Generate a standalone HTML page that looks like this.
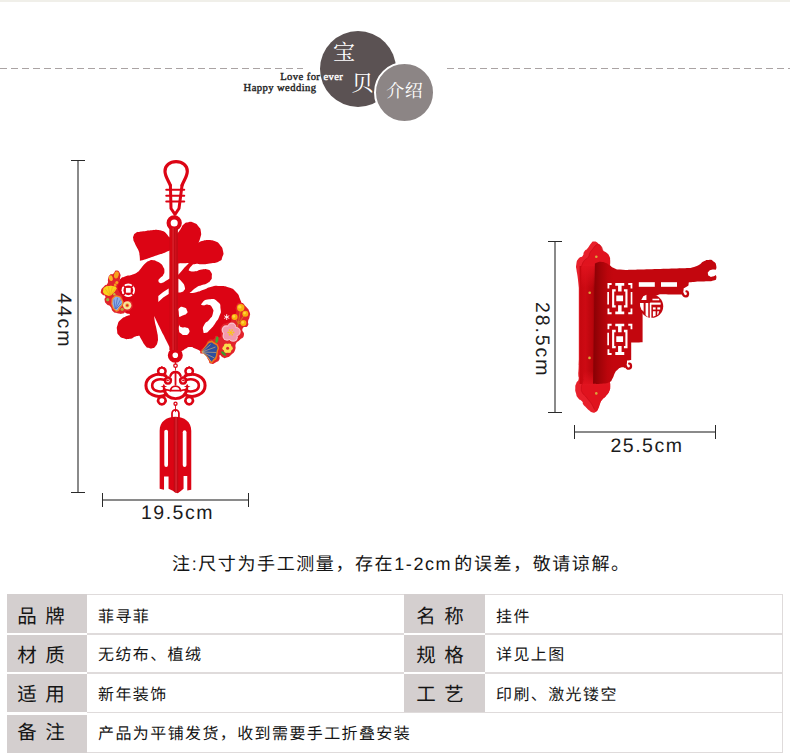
<!DOCTYPE html>
<html lang="zh-CN"><head><meta charset="utf-8"><title>宝贝介绍</title>
<style>
html,body{margin:0;padding:0;background:#fff}
body{position:relative;width:790px;height:753px;overflow:hidden;font-family:"Liberation Sans",sans-serif;color:#1c1c1c;text-rendering:geometricPrecision;-webkit-font-smoothing:antialiased}
.sr{position:absolute;width:1px;height:1px;margin:-1px;padding:0;overflow:hidden;clip:rect(0 0 0 0);clip-path:inset(50%);white-space:nowrap;border:0}
.tx{position:absolute;display:block;line-height:0}
.tx svg{display:block;overflow:visible}
.tx text{font-family:"Liberation Sans","Noto Sans CJK SC",sans-serif;fill:#151515}
.tx text.hd{font-family:"Liberation Serif","Noto Serif CJK SC",serif;fill:#fff}
.abs{position:absolute}
.topline{position:absolute;left:0;top:0;width:790px;height:1.5px;background:#f0efe9}
.dash{position:absolute;top:68px;height:1px;background:repeating-linear-gradient(90deg,#aaa3a3 0,#aaa3a3 7px,transparent 7px,transparent 11px)}
.c1{position:absolute;left:320px;top:31px;width:76px;height:76px;border-radius:50%;background:#5b5253}
.c2{position:absolute;left:373.5px;top:61.5px;width:57px;height:57px;border-radius:50%;background:#8c8585;border:2px solid #fff}
.en{position:absolute;font-family:"Liberation Serif",serif;font-weight:normal;font-size:10.6px;letter-spacing:.42px;line-height:12px;white-space:nowrap;color:#1f1f1f;-webkit-text-stroke:.4px currentColor}
.en b{color:#fff;font-weight:normal}
.dim{position:absolute;font-size:19.5px;letter-spacing:1.5px;line-height:20px;white-space:nowrap;color:#1c1c1c}
.rot{transform-origin:0 0;transform:rotate(90deg);letter-spacing:1.9px}
.vl{position:absolute;width:2px;background:#8a8a8a}
.hl{position:absolute;height:2px;background:#8a8a8a}
.tk{position:absolute;background:#2a2a2a}
.lab{position:absolute;background:#d4cfcf}
.ln{position:absolute;background:#dfdbdb}
</style></head>
<body>
<header>
<div class="topline"></div>
<div class="dash" style="left:0;width:303px"></div>
<div class="dash" style="left:447px;width:343px"></div>
<div class="c1"></div><div class="c2"></div>
<div class="en" style="left:280.2px;top:72.2px">Love for <b>ever</b></div>
<div class="en" style="left:243.6px;top:83.4px">Happy wedding</div>
<span class="tx" style="left:330px;top:38px;width:28px;height:32.8px"><svg width="28" height="32.8" viewBox="0 0 28 32.8"><text class="hd" x="14.1" y="22.3" font-size="22" text-anchor="middle">宝</text></svg></span>
<span class="tx" style="left:347.8px;top:67.6px;width:28.5px;height:33.4px"><svg width="28.5" height="33.4" viewBox="0 0 28.5 33.4"><text class="hd" x="14.5" y="23.5" font-size="22" text-anchor="middle">贝</text></svg></span>
<span class="tx" style="left:383.5px;top:78.5px;width:41.5px;height:26.2px"><svg width="41.5" height="26.2" viewBox="0 0 41.5 26.2"><text class="hd" x="2.2" y="18.2" font-size="18" letter-spacing="0.5">介绍</text></svg></span>
</header>
<section aria-label="尺寸">
<div class="vl" style="left:77px;top:160.5px;height:332px"></div>
<div class="tk" style="left:71px;top:160px;width:14px;height:1px"></div>
<div class="tk" style="left:71px;top:492px;width:14px;height:1px"></div>
<div class="hl" style="left:102px;top:499px;width:146.5px"></div>
<div class="tk" style="left:101.5px;top:493px;width:1px;height:14px"></div>
<div class="tk" style="left:248px;top:493px;width:1px;height:14px"></div>
<div class="vl" style="left:554px;top:241.5px;height:171px"></div>
<div class="tk" style="left:548px;top:241px;width:14px;height:1px"></div>
<div class="tk" style="left:548px;top:412px;width:14px;height:1px"></div>
<div class="hl" style="left:574.5px;top:430.5px;width:141px"></div>
<div class="tk" style="left:574px;top:424.5px;width:1px;height:14px"></div>
<div class="tk" style="left:715px;top:424.5px;width:1px;height:14px"></div>
<div class="dim" style="left:141px;top:503px">19.5cm</div>
<div class="dim" style="left:610.5px;top:435.5px">25.5cm</div>
<div class="dim rot" style="left:74.2px;top:292.5px">44cm</div>
<div class="dim rot" style="left:551.6px;top:301.5px">28.5cm</div>
<svg class="abs" style="left:0;top:140px" width="790" height="400" viewBox="0 140 790 400" role="img" aria-label="product photos"><g id="fu">
<g fill="none" stroke="#dc0414" stroke-linecap="round" stroke-linejoin="round">
<path stroke-width="3.2" d="M170.4 185.5C168.5 180.5 165 176.5 165 171.2C165 165.3 169.8 161.7 176.1 161.7C182.4 161.7 187.3 165.3 187.3 171.2C187.3 176.5 183.6 180.5 182 185.5"/>
<path stroke-width="3" d="M170.4 185.5L171 208.5L175 214.3L179 208.5L182 185.5"/>
<path stroke-width="2.1" d="M166.3 189.8H184.2M166.3 195.7H184.2M166.3 201.5H184.2"/>
<circle cx="174.2" cy="223" r="5.6" stroke-width="4.1"/>
<circle cx="175.3" cy="355.2" r="5.15" stroke-width="4.7"/>
</g>
<g fill="#dc0414">
<path d="M133.5 235.9C134.3 233.9 133.6 234.3 135.7 232.9C137.8 231.5 136.5 232.4 139.9 231.7C143.3 231.1 141.9 231.4 145.9 230.9C149.8 230.4 147.8 230.5 151.8 230.2C155.8 229.9 154.2 229.6 157.8 229.9C161.4 230.3 159.8 229.9 162.6 231.1C165.4 232.3 164 231.5 166.2 233.5C168.4 235.5 167.2 235.3 169.2 237.1C171.2 238.9 172.1 238.9 172.1 238.9C172.1 238.9 172.1 250.3 172.1 250.3C172.1 250.3 171.4 249.9 168.6 250.9C165.8 251.8 167.4 251.6 163.8 253C160.2 254.4 162.2 253.6 157.8 255C153.4 256.5 155 256 150.6 257.4C146.3 258.9 148.2 258.3 144.7 259.5C141.1 260.6 139.9 260.8 139.9 260.8C139.9 260.8 140 258.9 139.6 255.6C139.2 252.3 139.7 253.8 138.7 250.9C137.6 247.9 137.9 249.5 136.5 246.7C135.1 243.9 135.6 245.1 134.5 242.5C133.4 239.9 133.6 241.1 133.3 238.9C133 236.7 132.7 237.9 133.5 235.9Z"/>
<path d="M125 276.5C129.1 274.5 127.4 276.2 131.4 274.9C135.4 273.6 133.8 274.6 137 272.5C140.2 270.4 138.3 271.4 140.9 268.5C143.5 265.6 142.2 266.3 144.9 263.8C147.6 261.3 146.2 262.2 148.9 261C151.6 259.8 150.2 260.1 152.9 260.2C155.6 260.3 154.2 260.2 156.9 261.4C159.6 262.6 158.8 261.9 160.9 263.8C163 265.7 162 264.6 163.2 267C164.4 269.4 164.4 268.3 164.4 270.9C164.4 273.5 164.4 272.8 163.2 274.9C162 277 162.3 275.8 160.9 277.3C159.5 278.8 158.9 279.3 158.9 279.3C158.9 279.3 158.1 280.1 158.5 281.3C158.9 282.5 158.5 282.5 160.1 282.9C161.7 283.3 161.1 283.3 163.2 282.5C165.3 281.7 163.5 282.2 166.4 280.5C169.3 278.8 172 277.5 172 277.5C172 277.5 172 349.4 172 349.4C172 349.4 171.6 349.7 169.8 347C168 344.3 168.8 345.4 166.7 341.4C164.6 337.4 165.6 339.3 163.5 335.1C161.4 330.9 162.4 333 160.3 328.7C158.2 324.4 159.1 326.6 157.1 322.3C155.1 318 154.3 315.9 154.3 315.9C154.3 315.9 154.2 317.2 154.7 320.7C155.2 324.2 155.1 322.6 155.9 326.3C156.7 330 156.4 328.2 157.1 331.9C157.8 335.6 157.8 334.1 157.9 337.5C158 340.9 158.3 339.3 157.5 342.2C156.7 345.1 157.2 344.2 155.5 346.2C153.8 348.2 154.7 347.7 152.3 348.2C149.9 348.7 150.7 348.7 148.3 347.8C145.9 346.9 147.2 347.8 145.1 345.4C143 343 143.8 343.8 142 340.6C140.2 337.4 139.6 335.9 139.6 335.9C139.6 335.9 138.9 335.4 135.6 336.4C132.3 337.4 133.7 338.2 129.7 338.8C125.7 339.4 127.3 339.4 123.7 338.2C120.1 337 121.1 337.8 118.9 335.2C116.7 332.6 117.5 334 117.1 330.4C116.7 326.8 116.5 328 117.7 324.4C118.9 320.8 118.1 322.4 120.7 319.7C123.3 317 122.6 318.2 125.6 316.4C128.6 314.6 130.3 316 129.8 314.4C129.3 312.8 127.9 315.3 124 311.5C120.1 307.7 120.7 310.2 118 303C115.3 295.8 115.7 297.3 116 290C116.3 282.7 116 285.5 119 281C122 276.5 120.9 278.5 125 276.5Z"/>
<path d="M176 235.3C176 235.3 178 232.9 180.5 229.3C183 225.7 180.9 227 183.5 224.6C186.1 222.2 184.9 222.8 188.3 222.2C191.7 221.6 190.3 221.4 193.7 222.8C197.1 224.2 196.1 223.4 198.5 226.4C200.9 229.4 200.3 227.9 200.9 231.7C201.5 235.5 201.1 234.1 200.3 237.7C199.5 241.3 198.5 242.5 198.5 242.5C198.5 242.5 199.6 241.5 203.2 240.7C206.8 239.9 205.2 239.9 209.2 240.1C213.2 240.3 211.6 239.7 215.2 241.3C218.8 242.9 217.4 241.7 220 244.9C222.6 248.1 222.2 246.9 223 250.9C223.8 254.9 223.8 253.2 222.4 256.8C221 260.4 223 259.4 218.8 261.6C214.6 263.8 215.4 262.6 209.8 263.5C204.2 264.4 206.7 264.2 201.9 264.3C197.1 264.4 199 263.4 195.5 263.9C192 264.4 193.8 263.8 191.5 265.9C189.2 268 188.7 270.3 188.7 270.3C188.7 270.3 189.5 271.8 193.9 271.5C198.3 271.2 197.4 270.2 201.9 269.5C206.4 268.8 204.5 268.6 207.5 269.5C210.5 270.4 209.6 270 211 272.3C212.4 274.6 211.9 273.6 211.8 276.3C211.7 279 212.3 277.9 210.6 280.3C208.9 282.7 209.6 281.9 206.7 283.5C203.8 285.1 205.4 283.8 201.9 285.1C198.4 286.4 199.8 285.4 196.3 287.5C192.8 289.6 193.8 289.6 191.5 291.4C189.2 293.2 189.5 293 189.5 293C189.5 293 191.6 293.3 196.3 292.2C201 291.1 198.5 291.6 203.5 289.8C208.5 288 206.1 288 211.4 286.7C216.7 285.4 213.5 285.6 219.4 285.9C225.3 286.2 223.5 285.5 229 287.5C234.5 289.5 232.3 288.2 236 292C239.7 295.8 238.2 294.3 240 299C241.8 303.7 241.2 301 241.5 306C241.8 311 242.2 306 241 314C239.8 322 242.3 319.7 238 330C233.7 340.3 235.7 337.7 228 345C220.3 352.3 224 349.8 215 352C206 354.2 201 351.5 201 351.5C201 351.5 198.7 350 195 348.5C191.3 347 193.1 347 190 347C186.9 347 188.5 347.3 185.8 348.6C183.1 349.9 185.1 349.9 181.8 351C178.5 352.1 176 352 176 352C176 352 176 235.3 176 235.3Z"/>
</g>
<g fill="#fff">
<path d="M168.7 288.5L163.2 292.1L158.3 296L158.3 302L163.2 297.4L168.7 293.9Z"/>
<path d="M178.4 263.4C178.4 263.4 189 263 189 263C189 263 187.1 264.8 183.5 268.7C180 272.7 178.4 274.9 178.4 274.9C178.4 274.9 178.4 263.4 178.4 263.4Z"/>
<path d="M178.4 278.8C178.4 278.8 179.8 279.3 182 281.9C184.1 284.5 184.1 283.7 184.7 286.7C185.4 289.6 185.1 288.8 183.9 290.6C182.7 292.5 183 291.6 181.2 292.2C179.3 292.8 178.4 292.4 178.4 292.4C178.4 292.4 178.4 278.8 178.4 278.8Z"/>
<path d="M202.1 302.9C204 300.9 204 299.7 209.2 299.3C214.4 298.9 213.8 298.5 217.6 301.7C221.4 304.9 220 304.1 220.6 308.9C221.2 313.7 221.2 311.3 219.4 316.1C217.6 320.9 218.2 318.9 215.2 323.2C212.2 327.6 213.6 326 210.4 329.2C207.2 332.4 208 332.4 205.6 332.8C203.2 333.2 203.6 333.2 203.2 330.4C202.8 327.6 202.4 328 204.4 324.4C206.4 320.9 206.4 323.2 209.2 319.7C212 316.1 211.8 317.7 212.8 313.7C213.8 309.7 213.8 310.7 212.2 307.7C210.6 304.7 211 305.5 208 304.7C205 303.9 205.2 305.9 203.2 305.3C201.3 304.7 200.1 304.9 202.1 302.9Z"/>
<path d="M179.4 308C181.2 306.2 181.7 306.8 184.2 307.6C186.7 308.4 186.2 308.4 187 310.4C187.8 312.4 188 311.8 186.6 313.5C185.1 315.3 185 314.3 182.6 315.5C180.2 316.7 179.4 317.1 179.4 317.1C179.4 317.1 178.8 315.8 178.8 312.7C178.8 309.7 177.6 309.7 179.4 308Z"/>
<path d="M179.4 323.9C179.4 323.9 178.9 325.9 181 327.1C183.1 328.3 183.1 326.7 185.8 327.5C188.4 328.3 188 327.5 189 329.5C189.9 331.5 189.9 331.6 188.6 333.5C187.2 335.3 187.5 335.1 185 335.1C182.5 335.1 183 335.1 181 333.5C179 331.9 179.5 333.5 179 330.3C178.5 327.1 179.4 323.9 179.4 323.9Z"/>
</g>
<g fill="none" stroke="#fff" stroke-width="1.3"><circle cx="128" cy="290.3" r="5.6"/><rect x="125.4" y="287.7" width="5.2" height="5.2"/></g>
<rect x="169.6" y="228" width="8.3" height="122" fill="#c20a15"/>
<rect x="169.6" y="228" width="2.6" height="122" fill="#d60612"/>
<rect x="172.6" y="228" width="0.9" height="122" fill="#e8303a"/>
<rect x="175.4" y="228" width="0.8" height="122" fill="#d81420"/>
</g>
<g id="flL">
<path fill="#e2232b" d="M116.4 270.5C118.7 270.3 118.8 270.8 120 273.5C121.2 276.1 120.4 275.1 120 278.5C119.7 281.8 119.8 280.8 118.9 283.5C118.1 286.3 117.3 283.6 117.5 286.7C117.7 289.8 118.2 289.8 119.7 292.8C121.1 295.8 120.1 292.6 121.8 295.7C123.5 298.8 122 300.5 124.7 302.1C127.3 303.8 127.1 299.8 129.7 300.7C132.3 301.7 132.3 301.9 132.6 305C132.8 308.1 132.6 307.9 130.4 310C128.3 312.2 128.7 310.3 126.1 311.5C123.5 312.7 125.4 313 122.5 313.6C119.7 314.2 120.6 314 117.5 313.3C114.4 312.5 115.6 313.7 113.2 311.5C110.8 309.2 112.5 308.8 110.3 306.4C108.2 304.1 108.7 306.4 106.8 304.3C104.8 302.1 105.1 302.6 104.6 300C104.1 297.4 106.2 298.3 105.3 296.4C104.5 294.5 103.5 296.2 102.1 294.3C100.7 292.3 100.4 293.3 101 290.7C101.6 288 101.7 288.8 103.9 286.4C106 284 106 286.1 107.5 283.5C108.9 280.9 107.2 281.5 108.2 278.5C109.1 275.5 108.7 276.1 110.3 274.5C112 273 111.2 275.2 113.2 273.8C115.2 272.5 114.2 270.6 116.4 270.5Z"/>
<ellipse cx="116.4" cy="274.9" rx="2.3" ry="3.6" fill="#f6a11f" transform="rotate(15 116.4 274.9)"/>
<ellipse cx="110.9" cy="278.2" rx="1.9" ry="2.9" fill="#f8b52a" transform="rotate(-15 110.9 278.2)"/>
<circle cx="116.8" cy="282.6" r="1.5" fill="#f6a11f"/>
<circle cx="115.2" cy="285" r="1.4" fill="#f39a1c"/>
<path fill="#f9d31d" d="M103.2 290.3C103.5 288.2 103.2 288.5 105 287.1C106.8 285.7 105.9 286.4 108.5 286C111.2 285.7 110.2 285.4 112.8 286C115.5 286.6 115.6 286.3 116.4 287.8C117.3 289.4 116.5 288.8 115.4 290.7C114.2 292.6 114.5 291.9 112.8 293.5C111.2 295.2 112.4 295 110.3 295.5C108.3 296.1 108.9 296 106.8 295.3C104.6 294.7 105.1 295.2 103.9 293.5C102.7 291.9 102.8 292.5 103.2 290.3Z"/>
<path fill="none" stroke="#f0a51a" stroke-width=".7" d="M109.5 295.2L105 288.5M109.8 295.2L108.5 286.7M110.3 295.2L112.5 286.6M110.8 295L115.6 288.6"/>
<circle cx="107.7" cy="299.7" r="1.6" fill="#9db63c"/>
<circle cx="114.3" cy="294.3" r="1.2" fill="#c9b640"/>
<path fill="#f08a2a" d="M111.4 302.1C111.8 299 110.9 299.3 113.2 297.1C115.5 295 115.2 295 118.2 295.7C121.2 296.4 120.6 296.4 122.2 299.3C123.7 302.1 123.5 301.4 122.9 304.3C122.3 307.2 122.2 305.5 120.4 307.9C118.6 310.3 119.5 310.7 117.5 311.5C115.5 312.2 116.1 311.7 114.3 310C112.5 308.4 113.1 309.1 112.1 306.4C111.2 303.8 111.1 305.2 111.4 302.1Z"/>
<path fill="#8eaee6" d="M112.6 302.1C112.9 299.6 112.2 299.9 113.9 298.2C115.7 296.5 115.5 296.5 117.9 297.1C120.3 297.7 119.8 297.7 121.1 300C122.4 302.3 122.3 301.7 121.7 303.9C121.1 306.2 120.8 304.8 119.3 306.8C117.8 308.8 118.7 309.3 117.1 309.9C115.6 310.5 116.1 310 114.8 308.6C113.4 307.2 113.8 307.9 113.1 305.7C112.3 303.6 112.3 304.7 112.6 302.1Z"/>
<path fill="none" stroke="#4c6fc4" stroke-width=".8" d="M115 309L114 299.5M115.3 309L117.5 297.8M115.6 309L120.6 299.6M116 309L121.6 303.4"/>
<circle cx="122.2" cy="309.3" r="1.6" fill="#b9a43a"/>
<circle cx="127.2" cy="305.4" r="4.2" fill="#f7e3a0"/>
<circle cx="127.2" cy="305.4" r="2.1" fill="#f5b73a"/>
<circle cx="127.2" cy="305.4" r="1.2" fill="#d8202a"/>
</g>
<g id="coin"><circle cx="128.3" cy="290.3" r="6.7" fill="#fff"/><circle cx="128.3" cy="290.3" r="4.9" fill="#dc0414"/>
<path stroke="#dc0414" stroke-width="1.6" d="M123.3 285.3L133.3 295.3M133.3 285.3L123.3 295.3"/>
<rect x="125.9" y="287.9" width="4.8" height="4.8" fill="#fff"/></g>
<g id="flR">
<path fill="#e2232b" d="M240.7 302.7C243.9 302.7 242.8 303.3 245.8 306.4C248.7 309.5 248.2 308.4 249.5 312C250.7 315.5 250 314 249.5 317.1C249 320.2 248.7 318.3 248.1 321.3C247.5 324.2 249.5 323.4 247.6 325.9C245.8 328.4 243.8 325.6 242.5 328.7C241.3 331.8 244.8 331.5 243.9 335.2C243 338.9 242.4 337.1 239.7 339.9C237.1 342.7 237.6 340.2 236 343.6C234.4 347 236.6 346.4 235.1 350.1C233.5 353.8 234.1 352.3 231.3 354.7C228.6 357.2 229.5 356.6 226.7 357.5C223.9 358.5 225.3 358.3 223 357.5C220.7 356.8 221 354.6 219.7 355.2C218.5 355.8 220.5 357.1 219.3 359.4C218 361.7 218.8 360.8 216 362.2C213.2 363.6 213.5 364.5 210.9 363.6C208.2 362.7 210.1 362.3 208.1 359.4C206.1 356.4 207.5 357.2 204.8 354.7C202.2 352.3 200 355.1 200.2 352C200.3 348.9 202.5 349.3 205.3 345.4C208.1 341.6 205.8 342.5 208.6 340.3C211.3 338.2 211.2 340.5 213.7 338.9C216.2 337.4 213.8 336.3 216 335.7C218.2 335.1 218.6 338.5 220.2 337.1C221.7 335.7 220.2 335.2 220.7 331.5C221.1 327.8 219.6 328.7 221.6 325.9C223.6 323.1 223.6 324.7 226.7 323.1C229.8 321.6 229.3 323.7 230.9 321.3C232.4 318.8 229.6 318.5 231.3 315.7C233.1 312.9 234.4 316 236 312.9C237.6 309.8 234.4 309.8 236 306.4C237.6 303 237.4 302.7 240.7 302.7Z"/>
<path fill="none" stroke="#d8781c" stroke-width="1" d="M240.7 308L238.3 323.5L234.6 317.1M238.3 323.5L245.3 313.8M238.3 323.5L243.4 323.1M238.3 323.5L236 330"/>
<circle cx="240.7" cy="307.8" r="3.7" fill="#f8b10d"/>
<circle cx="239.8" cy="306.9" r="1.7" fill="#ffd440"/>
<circle cx="245.3" cy="313.8" r="3" fill="#f8b10d"/>
<circle cx="244.6" cy="313.1" r="1.4" fill="#ffd440"/>
<circle cx="234.6" cy="317.1" r="3" fill="#f8b10d"/>
<circle cx="233.8" cy="316.4" r="1.4" fill="#ffd440"/>
<circle cx="243.4" cy="323.1" r="3" fill="#f8b10d"/>
<circle cx="242.7" cy="322.4" r="1.4" fill="#ffd440"/>
<path stroke="#fff" stroke-width=".9" stroke-linecap="round" d="M226.7 314.6V319.6M224.5 315.9L228.9 318.3M228.9 315.9L224.5 318.3"/>
<circle cx="231.8" cy="327.2" r="4.6" fill="#f9c4cd"/>
<circle cx="236.1" cy="331.7" r="4.6" fill="#f9c4cd"/>
<circle cx="233.2" cy="337.2" r="4.6" fill="#f9c4cd"/>
<circle cx="227.1" cy="336.1" r="4.6" fill="#f9c4cd"/>
<circle cx="226.2" cy="329.9" r="4.6" fill="#f9c4cd"/>
<circle cx="231.8" cy="327.5" r="3.7" fill="#f29bad"/>
<circle cx="235.9" cy="331.7" r="3.7" fill="#f29bad"/>
<circle cx="233.1" cy="336.9" r="3.7" fill="#f29bad"/>
<circle cx="227.3" cy="335.9" r="3.7" fill="#f29bad"/>
<circle cx="226.5" cy="330.1" r="3.7" fill="#f29bad"/>
<circle cx="230.9" cy="332.4" r="3.4" fill="#f29bad"/>
<circle cx="230.9" cy="332.4" r="1.5" fill="#f8c61c"/>
<circle cx="233.5" cy="332.4" r="0.9" fill="#f8c61c"/>
<circle cx="232.2" cy="334.7" r="0.9" fill="#f8c61c"/>
<circle cx="229.6" cy="334.7" r="0.9" fill="#f8c61c"/>
<circle cx="228.3" cy="332.4" r="0.9" fill="#f8c61c"/>
<circle cx="229.6" cy="330.1" r="0.9" fill="#f8c61c"/>
<circle cx="232.2" cy="330.1" r="0.9" fill="#f8c61c"/>
<circle cx="230.5" cy="348.2" r="2.3" fill="#f9dc4c"/>
<circle cx="229" cy="350.7" r="2.3" fill="#f9dc4c"/>
<circle cx="226.2" cy="350.7" r="2.3" fill="#f9dc4c"/>
<circle cx="224.7" cy="348.2" r="2.3" fill="#f9dc4c"/>
<circle cx="226.2" cy="345.7" r="2.3" fill="#f9dc4c"/>
<circle cx="229" cy="345.7" r="2.3" fill="#f9dc4c"/>
<circle cx="227.6" cy="348.2" r="1.5" fill="#dd2a2a"/>
<ellipse cx="216.9" cy="339.9" rx="1.5" ry="3.4" fill="#4aa52e" transform="rotate(8 216.9 339.9)"/>
<ellipse cx="223.6" cy="353.5" rx="1.4" ry="3" fill="#3f9a2c" transform="rotate(-50 223.6 353.5)"/>
<path fill="#f07a1a" d="M200.7 352C200.7 352 202.2 349.6 205.3 345.9C208.4 342.2 206.9 342.1 210 341C213.1 339.8 211.7 340.7 214.6 342.5C217.5 344.3 217.5 343.2 218.6 346.4C219.7 349.5 218.5 348.1 217.9 352C217.2 355.8 217.9 355.1 216.7 358C215.4 360.9 216.1 359.1 214.1 360.8C212.2 362.4 212.9 363.7 210.9 362.9C208.9 362.2 210.1 361.2 208.1 358.5C206.1 355.7 207.3 356.9 204.8 354.7C202.4 352.6 200.7 352 200.7 352Z"/>
<path fill="#2f4f9f" d="M201.8 352C201.8 352 203.3 349.9 206 346.8C208.8 343.8 207.4 343.8 210.1 342.8C212.8 341.9 211.8 342.6 214.1 344C216.5 345.5 216.4 344.5 217.2 347.1C218 349.8 217.1 348.6 216.5 352C215.8 355.3 216.4 354.6 215.3 357.1C214.3 359.6 214.6 358 213.2 359.4C211.8 360.8 212.6 361.9 211.1 361.3C209.5 360.6 210.5 359.9 208.6 357.5C206.6 355.2 207.6 356.1 205.3 354.3C203 352.4 201.8 352 201.8 352Z"/>
<path fill="none" stroke="#c9a878" stroke-width=".7" d="M202 352L210.5 344.5M202 352L215.5 347M202 352L216.3 352.5M202 352L214.5 358M202 352L211 361"/>
</g>
<g id="knot" transform="translate(135 355) scale(.10127)" fill="none" stroke="#dc0414" stroke-linecap="round">
<g stroke-width="30">
<path d="M305 207C215 165 108 215 108 300C108 385 215 435 305 393"/>
<path transform="translate(800 0) scale(-1 1)" d="M305 207C215 165 108 215 108 300C108 385 215 435 305 393"/>
</g><g stroke-width="26">
<path d="M300 250C235 225 170 250 170 300C170 350 235 375 300 350"/>
<path transform="translate(800 0) scale(-1 1)" d="M300 250C235 225 170 250 170 300C170 350 235 375 300 350"/>
<path d="M265 123A37 37 0 1 0 265.1 123"/>
<path transform="translate(800 0) scale(-1 1)" d="M265 123A37 37 0 1 0 265.1 123"/>
<path d="M265 413A37 37 0 1 0 265.1 413"/>
<path transform="translate(800 0) scale(-1 1)" d="M265 413A37 37 0 1 0 265.1 413"/>
<path d="M325 222A30 30 0 1 0 325.1 222"/>
<path transform="translate(800 0) scale(-1 1)" d="M325 222A30 30 0 1 0 325.1 222"/>
</g>
<path stroke-width="24" d="M350 205A52 52 0 0 1 450 205"/>
<path stroke-width="18" d="M400 170V292"/>
<circle cx="400" cy="105" r="17" stroke-width="13"/>
<circle cx="400" cy="481" r="15" stroke-width="13"/>
<path stroke-width="9" d="M400 45V90M400 122V150M400 496V560"/>
<path stroke-width="29" d="M288 338C300 462 500 462 512 338"/>
<path stroke-width="18" fill="#fff" d="M352 352A48 44 0 0 1 448 352Z"/>
<path stroke-width="16" d="M288 338L350 352M512 338L450 352"/>
<g fill="#dc0414" stroke="none">
<path d="M285 285L297 305L318 312L297 319L285 340L273 319L252 312L273 305Z"/>
<path transform="translate(800 0) scale(-1 1)" d="M285 285L297 305L318 312L297 319L285 340L273 319L252 312L273 305Z"/>
<path d="M325 240a10 10 0 1 0 .1 0"/>
<path transform="translate(800 0) scale(-1 1)" d="M325 240a10 10 0 1 0 .1 0"/>
</g></g>
<g id="tassel" transform="translate(140 400) scale(.1328)">
<path fill="none" stroke="#dc0414" stroke-width="13" d="M241 140V100A26 26 0 0 1 293 100V140"/>
<path fill="#dc0414" d="M148 668V232C148 165 198 127 266 127C334 127 386 165 386 232V676L356 682V572H328V668L300 690L283 702L262 694L247 684L215 668V576H181V676Z"/>
<rect x="183" y="224" width="28" height="280" rx="14" fill="#fff"/>
<rect x="322" y="228" width="28" height="276" rx="14" fill="#fff"/>
<path fill="#c20a15" d="M254 130H288V700L262 694L254 682Z"/>
<path fill="#e53540" d="M268 130H275V698H268Z"/>
</g>
<defs><linearGradient id="pg" gradientUnits="userSpaceOnUse" x1="594.5" y1="0" x2="613" y2="0"><stop offset="0" stop-color="#8c0105"/><stop offset=".3" stop-color="#a20308"/><stop offset=".7" stop-color="#bb050c"/><stop offset="1" stop-color="#c3060e"/></linearGradient><linearGradient id="sg" gradientUnits="userSpaceOnUse" x1="579" y1="0" x2="595" y2="0"><stop offset="0" stop-color="#c4070f"/><stop offset=".4" stop-color="#cd0a13"/><stop offset=".85" stop-color="#b8050c"/><stop offset="1" stop-color="#9a0207"/></linearGradient><linearGradient id="tf" gradientUnits="userSpaceOnUse" x1="0" y1="264" x2="0" y2="288"><stop offset="0" stop-color="#e0131e"/><stop offset="1" stop-color="#e0131e" stop-opacity="0"/></linearGradient><linearGradient id="bf" gradientUnits="userSpaceOnUse" x1="0" y1="371" x2="0" y2="386"><stop offset="0" stop-color="#e0131e" stop-opacity="0"/><stop offset="1" stop-color="#e0131e"/></linearGradient></defs>
<g id="bracket">
<path fill="#e8202b" d="M579.3 290C579.3 290 578.4 282.5 577.5 276C576.6 269.5 577 274.3 576.6 270.5C576.2 266.7 575.6 268.6 576.3 264.6C577 260.6 576.5 261.5 578.6 258.6C580.7 255.7 580.7 258.2 582.6 255.9C584.5 253.6 582.5 254.2 584.3 251.6C586.1 249 585.6 250.8 587.9 248C590.2 245.2 589.2 245.4 591.2 243.3C593.2 241.2 591.9 241.8 593.9 241.6C595.9 241.4 595.2 241.1 597.2 242.6C599.2 244.1 600 246 600 246C600 246 600 290 600 290C600 290 579.3 290 579.3 290Z"/>
<path fill="#e8202b" d="M579.3 355C579.3 355 578.9 361.5 578.6 368C578.3 374.5 578.3 370.8 578.3 374.6C578.3 378.4 579.3 376.4 578.6 379.3C577.9 382.2 577.4 380.4 576.3 383.3C575.2 386.2 575.4 384.6 575.3 387.9C575.2 391.2 575.1 389.9 576 393.2C576.9 396.5 576 395.2 578 397.9C580 400.6 580.2 399 582 401.2C583.8 403.4 582 402.5 583.3 404.5C584.6 406.5 583.9 405.2 585.9 407.2C587.9 409.2 587.1 408.8 589.3 410.5C591.5 412.2 590.3 412.1 592.6 412.4C594.9 412.7 594.2 413 596.2 411.5C598.2 410 597.4 410.3 598.6 407.8C599.8 405.3 598.8 406.5 599.9 403.9C601 401.3 599.9 402.6 601.9 399.9C603.9 397.2 603.5 398.8 605.9 395.9C608.3 393 607.8 394.3 609.2 391.2C610.6 388.1 610 389.9 610.2 386.6C610.4 383.3 609.8 381.3 609.8 381.3C609.8 381.3 609.8 355 609.8 355C609.8 355 579.3 355 579.3 355Z"/>
<rect x="578.8" y="280" width="1.2" height="85" fill="#e8202b"/>
<rect x="579.6" y="266" width="15.4" height="118" fill="url(#sg)"/>
<path fill="url(#tf)" d="M581.3 290C581.3 290 581.2 281.2 581.3 273.2C581.4 265.2 580.6 270.1 581.6 265.9C582.6 261.7 582.1 263.5 584.3 260.6C586.5 257.7 586.4 259.8 588.3 257.2C590.2 254.6 588.5 255.5 589.9 252.9C591.3 250.3 590.6 251.8 592.6 249.3C594.6 246.8 593.9 246.9 595.9 245.3C597.9 243.7 596.8 244.2 598.6 244.6C600.4 245 599.8 244.7 601.2 246.6C602.6 248.5 601.2 248.3 602.9 250.3C604.6 252.3 604.1 250.7 606.2 252.6C608.3 254.5 607.9 253.2 609.2 255.9C610.5 258.6 610 257.2 610.2 260.6C610.4 264 609.8 266 609.8 266C609.8 266 609.8 290 609.8 290C609.8 290 581.3 290 581.3 290Z"/>
<path fill="url(#bf)" d="M583.3 379.3C583.3 379.3 583 380.4 582.3 383.3C581.6 386.2 581.3 384.8 581.3 387.9C581.3 391 581 389.9 582.3 392.6C583.6 395.3 583.4 393.7 585.3 395.9C587.2 398.1 586.1 397 587.9 399.2C589.7 401.4 589.1 400.4 590.6 402.5C592.1 404.6 591.2 403.2 592.5 405.5C593.8 407.8 593.3 407.5 594.5 409.5C595.7 411.5 594.8 412.1 596.2 411.5C597.6 410.9 597.4 410.3 598.6 407.8C599.8 405.3 598.8 406.5 599.9 403.9C601 401.3 599.9 402.6 601.9 399.9C603.9 397.2 603.5 398.8 605.9 395.9C608.3 393 607.8 394.3 609.2 391.2C610.6 388.1 610 389.9 610.2 386.6C610.4 383.3 609.8 381.3 609.8 381.3C609.8 381.3 609.8 370 609.8 370C609.8 370 583.3 370 583.3 370C583.3 370 583.3 379.3 583.3 379.3Z"/>
<path fill="none" stroke="#c50b15" stroke-width=".7" d="M581.6 265.9C582.5 264.1 582.1 263.5 584.3 260.6C586.5 257.7 586.4 259.8 588.3 257.2C590.2 254.6 588.5 255.5 589.9 252.9C591.3 250.3 590.6 251.8 592.6 249.3C594.6 246.8 593.9 246.9 595.9 245.3C597.9 243.7 596.8 244.2 598.6 244.6C600.4 245 599.8 244.7 601.2 246.6C602.6 248.5 602.3 249.1 602.9 250.3"/>
<path fill="none" stroke="#c50b15" stroke-width=".7" d="M583.3 379.3C583.3 379.3 583 380.4 582.3 383.3C581.6 386.2 581.3 384.8 581.3 387.9C581.3 391 581 389.9 582.3 392.6C583.6 395.3 583.4 393.7 585.3 395.9C587.2 398.1 586.1 397 587.9 399.2C589.7 401.4 589.1 400.4 590.6 402.5C592.1 404.6 591.2 403.2 592.5 405.5C593.8 407.8 593.8 408.2 594.5 409.5"/>
<path fill="url(#pg)" d="M594.9 263.6C594.9 263.6 595.6 262.8 597.9 262.2C600.2 261.6 599.2 261.7 601.9 261.9C604.6 262.1 603.3 261.8 605.9 262.9C608.5 264 607.2 263.5 609.8 265.2C612.4 266.9 610.4 266.4 613.8 267.9C617.2 269.4 614.6 269 620 269.6C625.4 270.2 630 269.7 630 269.7C630 269.7 690.8 267.9 690.8 267.9C690.8 267.9 694.1 267.4 698.4 265.3C702.6 263.1 700 263.4 703.4 261.6C706.8 259.8 705.1 260 708.5 259.9C711.9 259.9 710.9 259.5 713.5 261.5C716.2 263.4 715.7 263.1 716.3 265.9C717 268.7 715.4 269.8 715.4 269.8C715.4 269.8 713.9 269.2 711.6 269.8C709.4 270.4 710 270.2 708.7 271.6C707.5 272.9 707.7 272.3 708 273.9C708.2 275.4 708 275.2 709.5 276.1C711 277.1 710.5 277.1 712.5 276.6C714.6 276.2 715.6 274.9 715.6 274.9C715.6 274.9 717 276.3 716.3 278.2C715.7 280 717 279.4 713.5 280.4C710.1 281.5 711.9 280.9 705.9 281.3C700 281.8 701.6 281.4 695.8 281.7C690.1 282.1 688.7 282.4 688.7 282.4C688.7 282.4 688.5 285.4 688.5 285.4C688.5 285.4 683.7 288.3 683.7 288.3C683.7 288.3 683.7 290.4 683.1 292.5C682.5 294.6 682 294.6 682 294.6C682 294.6 672 294.5 672 294.5C672 294.5 660 294.3 660 294.3C660 294.3 642.6 300 642.6 300C642.6 300 642.6 342.2 642.6 342.2C642.6 342.2 631.2 342.6 631.2 342.6C631.2 342.6 631.2 360 631.2 360C631.2 360 627 360.6 627 360.6C627 360.6 627.2 363.6 626.4 366C625.6 368.4 624.6 367.9 624.6 367.9C624.6 367.9 623.4 366.8 621 367.5C618.6 368.2 619.4 368.2 617.4 369.9C615.4 371.6 616.6 369.8 615 372.7C613.4 375.6 614.4 375.3 612.5 378.5C610.6 381.7 612.3 380.6 609.2 382.3C606.1 384 607.4 383.1 603.2 383.6C599 384.1 599.9 384 596.6 383.9C593.3 383.8 593.2 383.3 593.2 383.3C593.2 383.3 594.9 263.6 594.9 263.6Z"/>
<g fill="none" stroke="#c3060e" stroke-width="2.3" stroke-linecap="round">
<path d="M682.6 293.2Q683.5 296.6 686 296.4Q688.3 296 688 293Q687.8 291.3 686.5 291.4"/>
<path d="M626 366.3Q626.8 368.8 629 368.6Q631.2 368.2 631 365.8Q630.8 363.6 629.2 363.7"/>
</g>
<g fill="#fff">
<rect x="638.8" y="282.2" width="16" height="4.6"/><rect x="661" y="282.2" width="16" height="4.6"/>
</g>
<circle cx="651.6" cy="306.2" r="11.6" fill="#c3060e"/>
<g transform="translate(630 280) scale(.0664)" fill="#fff">
<path d="M170 300L200 245L248 222V300Z"/>
<path d="M150 345H205V480L170 440L152 390Z"/><path d="M235 345H275V560L235 530Z"/><path d="M298 345H322V575H298Z"/>
<path d="M338 282H440V306H338Z"/><path d="M305 340H462V372H305Z"/>
<path d="M345 412H386V445H345Z"/><path d="M411 412H455V445H411Z"/><path d="M345 470H386V540L345 552Z"/><path d="M410 470H440L424 520L410 528Z"/>
</g>
<g id="lattice" fill="#fff">
<path transform="translate(600 275) scale(.06645)" d="M113 120H175V150H113ZM113 150H140V205H113ZM425 120H487V150H425ZM460 150H487V205H460ZM230 120H365V160H230ZM272 160H325V250H272ZM110 255H135V445H110ZM182 213H214V490H182ZM214 213H236V250H214ZM214 455H236V490H214ZM382 213H414V490H382ZM360 213H382V250H360ZM360 455H382V490H360ZM245 310H347V395H245ZM272 455H325V548H272ZM230 548H365V590H230ZM113 505H140V560H113ZM113 560H175V590H113ZM462 255H487V445H462ZM460 505H487V560H460ZM425 560H487V590H425Z"/>
<path transform="translate(600 315.7) scale(.06645)" d="M113 120H175V150H113ZM113 150H140V205H113ZM425 120H487V150H425ZM460 150H487V205H460ZM230 120H365V160H230ZM272 160H325V250H272ZM110 255H135V445H110ZM182 213H214V490H182ZM214 213H236V250H214ZM214 455H236V490H214ZM382 213H414V490H382ZM360 213H382V250H360ZM360 455H382V490H360ZM245 310H347V395H245ZM272 455H325V548H272ZM230 548H365V590H230ZM113 505H140V560H113ZM113 560H175V590H113Z"/>
</g>
<circle cx="596.3" cy="256.8" r="1.3" fill="#d9a63a"/>
<circle cx="589.7" cy="292.7" r="1.3" fill="#d9a63a"/>
<circle cx="589.5" cy="357.9" r="1.3" fill="#d9a63a"/>
<circle cx="596.3" cy="393.4" r="1.3" fill="#d9a63a"/>
</g></svg>
</section>
<div class="note">
<span class="tx" style="left:170px;top:552px;width:461.1px;height:25.6px"><svg width="461.1" height="25.6" viewBox="0 0 461.1 25.6"><text x="2" y="17.8" font-size="18" letter-spacing="1.6">注:尺寸为手工测量，存在1-2cm<tspan x="284.3">的误差，敬请谅解。</tspan></text></svg></span>
</div>
<div class="spec" role="table" aria-label="规格参数">
<div class="ln" style="left:7px;top:593.5px;width:776px;height:1.5px"></div>
<div class="ln" style="left:86.5px;top:633px;width:317.5px;height:2px"></div>
<div class="ln" style="left:484.5px;top:633px;width:298.5px;height:2px"></div>
<div class="ln" style="left:86.5px;top:671.8px;width:317.5px;height:2px"></div>
<div class="ln" style="left:484.5px;top:671.8px;width:298.5px;height:2px"></div>
<div class="ln" style="left:86.5px;top:711.7px;width:696.5px;height:1.7px"></div>
<div class="ln" style="left:86.5px;top:751.5px;width:696.5px;height:1.5px"></div>
<div class="ln" style="left:781.5px;top:594px;width:1.5px;height:159px"></div>
<div class="lab" style="left:7px;top:594px;width:79.5px;height:39px"></div>
<span class="tx" style="left:15px;top:602.7px;width:24px;height:28px"><svg width="24" height="28" viewBox="0 0 24 28"><text x="2.2" y="19.6" font-size="19.5">品</text></svg></span>
<span class="tx" style="left:43px;top:602.7px;width:24px;height:28px"><svg width="24" height="28" viewBox="0 0 24 28"><text x="2.2" y="19.6" font-size="19.5">牌</text></svg></span>
<span class="tx" style="left:95.5px;top:606.3px;width:55.2px;height:23.7px"><svg width="55.2" height="23.7" viewBox="0 0 55.2 23.7"><text x="2" y="16.3" font-size="16" letter-spacing="1.4">菲寻菲</text></svg></span>
<div class="lab" style="left:404px;top:594px;width:80.5px;height:39px"></div>
<span class="tx" style="left:414px;top:602.7px;width:24px;height:28px"><svg width="24" height="28" viewBox="0 0 24 28"><text x="2.2" y="19.6" font-size="19.5">名</text></svg></span>
<span class="tx" style="left:441.5px;top:602.7px;width:24px;height:28px"><svg width="24" height="28" viewBox="0 0 24 28"><text x="2.2" y="19.6" font-size="19.5">称</text></svg></span>
<span class="tx" style="left:493.5px;top:606.3px;width:37.8px;height:23.7px"><svg width="37.8" height="23.7" viewBox="0 0 37.8 23.7"><text x="2" y="16.3" font-size="16" letter-spacing="1.4">挂件</text></svg></span>
<div class="lab" style="left:7px;top:635px;width:79.5px;height:36.8px"></div>
<span class="tx" style="left:15px;top:641.6px;width:24px;height:28px"><svg width="24" height="28" viewBox="0 0 24 28"><text x="2.2" y="19.6" font-size="19.5">材</text></svg></span>
<span class="tx" style="left:43px;top:641.6px;width:24px;height:28px"><svg width="24" height="28" viewBox="0 0 24 28"><text x="2.2" y="19.6" font-size="19.5">质</text></svg></span>
<span class="tx" style="left:95.5px;top:644.4px;width:107.4px;height:23.7px"><svg width="107.4" height="23.7" viewBox="0 0 107.4 23.7"><text x="2" y="16.3" font-size="16" letter-spacing="1.4">无纺布、植绒</text></svg></span>
<div class="lab" style="left:404px;top:635px;width:80.5px;height:36.8px"></div>
<span class="tx" style="left:414px;top:641.6px;width:24px;height:28px"><svg width="24" height="28" viewBox="0 0 24 28"><text x="2.2" y="19.6" font-size="19.5">规</text></svg></span>
<span class="tx" style="left:441.5px;top:641.6px;width:24px;height:28px"><svg width="24" height="28" viewBox="0 0 24 28"><text x="2.2" y="19.6" font-size="19.5">格</text></svg></span>
<span class="tx" style="left:493.5px;top:644.4px;width:72.6px;height:23.7px"><svg width="72.6" height="23.7" viewBox="0 0 72.6 23.7"><text x="2" y="16.3" font-size="16" letter-spacing="1.4">详见上图</text></svg></span>
<div class="lab" style="left:7px;top:673.8px;width:79.5px;height:38.5px"></div>
<span class="tx" style="left:15px;top:681.4px;width:24px;height:28px"><svg width="24" height="28" viewBox="0 0 24 28"><text x="2.2" y="19.6" font-size="19.5">适</text></svg></span>
<span class="tx" style="left:43px;top:681.4px;width:24px;height:28px"><svg width="24" height="28" viewBox="0 0 24 28"><text x="2.2" y="19.6" font-size="19.5">用</text></svg></span>
<span class="tx" style="left:95.5px;top:683.7px;width:72.6px;height:23.7px"><svg width="72.6" height="23.7" viewBox="0 0 72.6 23.7"><text x="2" y="16.3" font-size="16" letter-spacing="1.4">新年装饰</text></svg></span>
<div class="lab" style="left:404px;top:673.8px;width:80.5px;height:38.5px"></div>
<span class="tx" style="left:414px;top:681.4px;width:24px;height:28px"><svg width="24" height="28" viewBox="0 0 24 28"><text x="2.2" y="19.6" font-size="19.5">工</text></svg></span>
<span class="tx" style="left:441.5px;top:681.4px;width:24px;height:28px"><svg width="24" height="28" viewBox="0 0 24 28"><text x="2.2" y="19.6" font-size="19.5">艺</text></svg></span>
<span class="tx" style="left:493.5px;top:683.7px;width:124.8px;height:23.7px"><svg width="124.8" height="23.7" viewBox="0 0 124.8 23.7"><text x="2" y="16.3" font-size="16" letter-spacing="1.4">印刷、激光镂空</text></svg></span>
<div class="lab" style="left:7px;top:714.8px;width:79.5px;height:38.2px"></div>
<span class="tx" style="left:15px;top:718.6px;width:24px;height:28px"><svg width="24" height="28" viewBox="0 0 24 28"><text x="2.2" y="19.6" font-size="19.5">备</text></svg></span>
<span class="tx" style="left:43px;top:718.6px;width:24px;height:28px"><svg width="24" height="28" viewBox="0 0 24 28"><text x="2.2" y="19.6" font-size="19.5">注</text></svg></span>
<span class="tx" style="left:95.5px;top:722.5px;width:316.2px;height:23.7px"><svg width="316.2" height="23.7" viewBox="0 0 316.2 23.7"><text x="2" y="16.3" font-size="16" letter-spacing="1.4">产品为平铺发货，收到需要手工折叠安装</text></svg></span>
</div>
</body></html>
